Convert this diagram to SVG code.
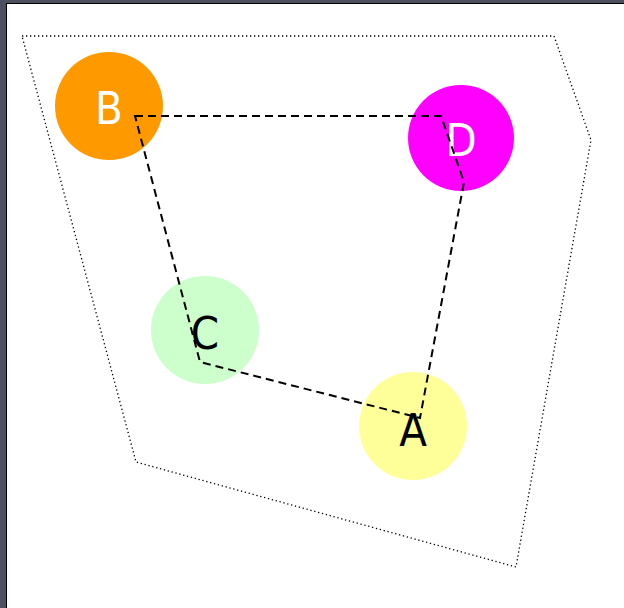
<svg xmlns="http://www.w3.org/2000/svg" width="624" height="608" viewBox="0 0 624 608">
<style>
.lbl{font-family:"DejaVu Sans Condensed","DejaVu Sans",sans-serif;font-stretch:condensed;font-size:45px;text-anchor:middle}
.w{fill:#ffffff}.k{fill:#000000}
</style>
<rect x="0" y="0" width="624" height="608" fill="#4d505e"/>
<rect x="6.5" y="3.5" width="620" height="610" fill="#ffffff" stroke="#000" stroke-width="1"/>
<g id="hull">
<polygon points="22,36 554,36 591,140 516,567 136,462" fill="none" stroke="#000" stroke-width="1.3" stroke-dasharray="1.3,2.7"/>
</g>
<g id="node-B"><circle cx="109" cy="106" r="54" fill="#ff9900"/><text class="lbl w" x="109" y="124">B</text></g>
<g id="node-D"><circle cx="461" cy="138" r="53" fill="#ff00ff"/><text class="lbl w" x="461" y="156">D</text></g>
<g id="node-C"><circle cx="205" cy="330" r="54" fill="#ccffcc"/><text class="lbl k" x="205" y="349">C</text></g>
<g id="node-A"><circle cx="413" cy="426" r="54" fill="#ffff99"/><text class="lbl k" x="413" y="446">A</text></g>
<g id="connectors">
<polygon points="135,116 441,116 464,182 420,418 200,362" fill="none" stroke="#000" stroke-width="2" stroke-dasharray="8,5"/>
</g>
</svg>
